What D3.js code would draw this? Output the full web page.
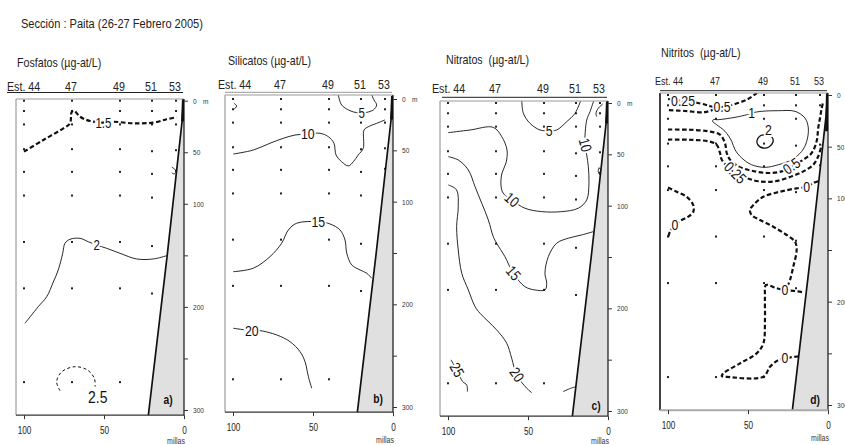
<!DOCTYPE html>
<html>
<head>
<meta charset="utf-8">
<script src="https://cdn.jsdelivr.net/npm/d3@7"></script>
<style>
  body { margin: 0; background: #fff; }
  svg { display: block; font-family: "Liberation Sans", Arial, sans-serif; }
  text { white-space: pre; }
</style>
</head>
<body>
<div id="chart"></div>
<script>
// stations along the section (distance to coast, miles) and their sample depths (m)
const stations = ['44', '47', '49', '51', '53'];
const stationMiles = [100, 70, 40, 20, 5];
const sampleDepths = [
  [0, 10, 23, 47, 69, 92, 137, 182, 273],
  [0, 10, 23, 47, 69, 92, 137, 182, 273],
  [0, 10, 23, 47, 69, 92, 137, 182, 273],
  [0, 10, 23, 49, 71, 94, 141, 187],
  [0, 10, 23, 48, 68]
];
const depthTicks = [0, 50, 100, 150, 200, 250, 300];
const depthLabels = ['0', '50', '100', '', '200', '', '300'];
const distTicks = [100, 50, 0];
// sea floor along the section [miles, depth]
const bottomProfile = [[0, -3], [1.2, 20], [10.5, 150], [22.5, 308]];

// contours: points are [miles, depth]; at = label anchors
const fosfatos = [
  {level: '1.5', at: [[50.4, 21.3]], pts: [[100, 49.4], [87.9, 38.1], [75.4, 26.8], [71.25, 21.9], [70.2, 11], [68.75, 9.7], [65, 15.5], [58.75, 19.7], [50.4, 21.3], [44.4, 20.4], [31.9, 21.9], [19.4, 21.3], [10.8, 18], [4.6, 16.1]]},
  {level: '2', at: [[54.6, 140]], pts: [[10.8, 150.3], [19.2, 153.5], [29.6, 153.5], [40, 148], [48.3, 143.2], [54.6, 140], [59.8, 136.8], [65, 133.5], [71.25, 134.4], [74.4, 138.3], [75.8, 148], [78.6, 164.2], [81.7, 175.9], [85.8, 190.1], [91.1, 199.8], [99.4, 215.9]]},
  {level: '2.5', at: [[53.9, 287.7]], pts: [[77.5, 281.3], [79.6, 272.5], [76.4, 262.9], [68.1, 258], [60.4, 261.2], [56, 269.3], [55.6, 277.4]]},
  {level: '2', at: [], pts: [[7.6, 64.5], [5.8, 66.5], [5.0, 69], [6.2, 71], [7.6, 70]]}
];

const silicatos = [
  {level: '5', at: [], pts: [[99.4, 4.2], [97.7, 6.8], [99.4, 10]]},
  {level: '5', at: [[19.6, 13.9]], pts: [[34.2, -4], [32.1, 5.8], [26.9, 11.4], [22.7, 13.3], [19.6, 13.9], [16.4, 13], [12.3, 10.7], [10.2, 5.8], [11.9, 1], [13.3, -4]]},
  {level: '10', at: [[53.3, 34.1]], pts: [[99.8, 53.6], [87.3, 49.7], [76.9, 43.1], [68.6, 38.3], [61.25, 35.1], [53.3, 34.1], [45.6, 33.4], [40.4, 36.7], [36.9, 43.1], [35.6, 54.5], [32.1, 61.1], [27.9, 65.2], [24.8, 61.1], [21.7, 54.5], [18.6, 48], [18.1, 30.2], [15.4, 27], [10.2, 23.7], [5, 20.4]]},
  {level: '15', at: [[46.7, 119.5]], pts: [[99.8, 168.2], [87.3, 164.8], [76.9, 153.6], [69.6, 140.5], [65.4, 127.6], [60.2, 121], [46.7, 119.5], [39.4, 121.7], [33.1, 127.6], [30, 137.3], [28.9, 150.2], [25.8, 161.6], [20.6, 166.5], [16.4, 169.7], [13.3, 174.6]]},
  {level: '20', at: [[88.3, 225.6]], pts: [[99.8, 223.3], [88.3, 225.6], [83.1, 225.6], [72.7, 229.8], [64.4, 236.3], [58.1, 246.1], [55, 255.8], [52.9, 270.4], [50.8, 281.7]]}
];

const nitratos = [
  {level: '5', at: [[36.7, 27]], pts: [[53.9, -3], [52.9, 10], [48.75, 19.8], [42.5, 26.3], [36.7, 27], [32.1, 26.3], [25.8, 18.2], [20.6, 10], [16.9, -3]]},
  {level: '5', at: [], pts: [[3.3, 1], [6.1, 5.2], [7.5, 10], [7.1, 13.3]]},
  {level: '10', at: [[60.2, 94.4], [14.4, 40.9]], pts: [[99.8, 28.9], [86.25, 26.3], [71.7, 23.7], [66.4, 32.8], [63.1, 45.8], [63.75, 58.4], [66.25, 68.2], [66.9, 79.8], [65.6, 87.6], [60.2, 94.4], [51.9, 102.5], [41.4, 105.8], [28.9, 105.8], [18.6, 102.5], [13.3, 94.4], [11.9, 78.2], [12.3, 62], [13.3, 50.6], [14.4, 40.9], [13.3, 16.6], [11.25, 8.5], [8.75, -3]]},
  {level: '15', at: [[59.2, 165.8]], pts: [[99.8, 52.3], [93.6, 55.5], [87.3, 65.2], [83.1, 81.5], [78.9, 97.7], [74.8, 113.9], [71.7, 130.2], [69.6, 136.6], [64.4, 149.7], [59.2, 165.8], [51.9, 178.9], [45.6, 182.1], [39.4, 182.1], [38.3, 175.6], [39.4, 165.8], [37.3, 149.7], [32.1, 136.6], [24.8, 131.7], [16.4, 128.5], [9.2, 125.3]]},
  {level: '20', at: [[57.1, 264.8]], pts: [[99.8, 79.8], [94.6, 84.7], [93.6, 101], [94.6, 120.4], [93.6, 143.1], [91.4, 165.8], [87.3, 182.1], [83.1, 198.3], [80, 204.8], [69.6, 221], [63.3, 234], [60.2, 248.6], [57.1, 264.8], [50.8, 277.8], [47.7, 282.1]]},
  {level: '20', at: [], pts: [[28, 281.1], [23.5, 278], [19.6, 276.2]]},
  {level: '25', at: [[94.6, 260]], pts: [[98.1, 250.2], [94.6, 260], [90.8, 271.4], [88.3, 274.6], [87.9, 281.1]]},
  {level: '20', at: [], pts: [[5.6, 63], [4.3, 66], [5, 70], [6.1, 67], [5.6, 63]]}
];

const nitritos = [
  {level: '0.25', at: [[90.6, 5.8]], pts: [[100, 3.9], [90.6, 5.8], [81.25, 7.7], [75, 10.2], [70.5, 12.8], [76.9, 16.5], [89.4, 15.5], [100, 14.5]]},
  {level: '0.5', at: [[66.25, 11.6]], pts: [[71.25, 12.6], [66.25, 11.6], [58.1, 8.7], [50, 3.9], [44.4, -2]]},
  {level: '1', at: [[47.7, 17.4]], closed: true, pts: [[71.7, 23.9], [68.6, 23.9], [58.1, 21.6], [50.8, 19.1], [47.7, 17.4], [41.4, 15.8], [31.1, 15.2], [20.6, 15.8], [14.4, 22.3], [12.3, 31.9], [13.3, 44.8], [16.4, 54.5], [22.7, 62.6], [31.1, 67.5], [39.4, 70], [47.7, 67.5], [53.9, 61], [58.1, 53], [60.2, 44.8], [64.4, 35.1], [69.6, 28.8], [72.1, 25.5]]},
  {level: '2', at: [[37.3, 33.6]], closed: true, pts: [[44.4, 44.5], [42.5, 39.7], [38.75, 38.7], [35, 40.7], [34.4, 45.5], [36.9, 50.3], [40.6, 51.3], [43.75, 48.4]]},
  {level: '0.5', at: [[22.7, 69]], pts: [[100, 33.4], [87.3, 33.6], [74.8, 35.1], [67.5, 38.4], [64.4, 46.5], [63.3, 56.1], [61.25, 62.6], [56.1, 69], [47.7, 73.3], [37.3, 75.5], [28.9, 73.9], [22.7, 69], [15.4, 62.6], [10.2, 56.1], [7.1, 44.8], [6.1, 31.9], [5, 22.3], [3.9, 12.6], [2.9, 6.1]]},
  {level: '0.25', at: [[58.1, 75.5]], pts: [[100, 43.1], [87.3, 43.3], [74.8, 44.8], [69.6, 48.1], [67.5, 56.1], [66.4, 62.6], [58.1, 75.5], [50.8, 80.3], [43.6, 83.5], [33.1, 83.5], [22.7, 78.7], [15.4, 73.9], [9.2, 67.5], [6.1, 59.3], [3.9, 48.1]]},
  {level: '0', at: [[13.3, 88.8]], pts: [[6.1, 83.5], [9.2, 85.2], [13.3, 88.8], [19.6, 90.3], [30, 93.6], [40.4, 98.5], [45.6, 104.8], [48.75, 111.3], [47.7, 116.2], [42.5, 121], [34.2, 127.5], [25.8, 135.5], [20.6, 142], [19.6, 150], [21.7, 166.2], [23.75, 179.1], [25, 183.9]]},
  {level: '0', at: [[26.9, 188.8], [26.9, 254.9]], pts: [[16.25, 190.7], [20.6, 189.7], [26.9, 188.8], [32.5, 186.8], [38.75, 183.9], [39.4, 195.5], [39.4, 217.8], [40.4, 240.4], [44.6, 250], [55, 259.7], [65.4, 269.4], [66.4, 272], [63.3, 272.7], [40.4, 272.7], [36.25, 263], [31.1, 256.5], [26.9, 254.9], [20.6, 253.3], [16.4, 252.7]]},
  {level: '0', at: [[95.6, 125.8]], pts: [[100, 89.5], [94.6, 93.6], [88.3, 98.5], [84.2, 106.5], [84.2, 113], [87.3, 117.8], [91.4, 121], [95.6, 125.8], [98.75, 132.3], [99.8, 137.2]]}
];

// ---- layout ----
const width = 845, height = 445;
const NARROW = 0.82;   // condensed lettering of the original figure
const styles = {
  solid: {w: 0.9, dash: null},
  solidMed: {w: 1.3, dash: null},
  dashBold: {w: 2.2, dash: '4.5,2.5'},
  dashThin: {w: 1, dash: '3,2.5'}
};

const panels = [
  {tag: 'a)', title: 'Fosfatos (µg-at/L)', data: fosfatos, x0: 184, y0: 100.7, y300: 410, top: 99,
   titleX: 17, titleY: 67, lineX1: 7, lineY: 92.5, estX: 7, stY: 90.5, stSize: 13, tagPos: [-16, -16],
   kind: ['dashBold', 'solid', 'dashThin', 'solid'], size: [14, 14, 17, 13], rot: [0, 0, 0, 0]},
  {tag: 'b)', title: 'Silicatos (µg-at/L)', data: silicatos, x0: 393, y0: 99, y300: 407, top: 95,
   titleX: 228, titleY: 65, lineX1: 225, lineY: 92.3, estX: 218, stY: 89.3, stSize: 13, tagPos: [-15, -14],
   kind: ['solid', 'solid', 'solid', 'solid', 'solid'], size: [14, 14, 15, 15, 15], rot: [0, 0, 0, 0, 0]},
  {tag: 'c)', title: 'Nitratos  (µg-at/L)', data: nitratos, x0: 608, y0: 103, y300: 411, top: 101,
   titleX: 446, titleY: 64, lineX1: 442, lineY: 97.3, estX: 432, stY: 93.3, stSize: 13, tagPos: [-12, -11],
   kind: ['solid', 'solid', 'solid', 'solid', 'solid', 'solid', 'solid', 'solid'], size: [15, 13, 15, 15, 15, 13, 15, 13],
   rot: [0, 0, [40, 75], 50, 55, 0, 60, 0]},
  {tag: 'd)', title: 'Nitritos  (µg-at/L)', data: nitritos, x0: 828, y0: 95, y300: 405, top: 93,
   titleX: 661, titleY: 57, lineX1: 660, lineY: 90.7, estX: 655, stY: 85, stSize: 11, tagPos: [-13, -11],
   kind: ['dashBold', 'dashBold', 'solid', 'solidMed', 'dashBold', 'dashBold', 'dashBold', 'dashBold', 'dashBold'],
   size: [15, 15, 15, 15, 15, 15, 15, 15, 15], rot: [0, 0, 0, 0, -35, 45, 0, 0, 0]}
];

const svg = d3.select('#chart').append('svg')
  .attr('width', width)
  .attr('height', height);

// condensed text helper
function addText(parent, x, y, str, size, o = {}) {
  const t = parent.append('text')
    .attr('transform', `translate(${x},${y})${o.rot ? ` rotate(${o.rot})` : ''} scale(${NARROW},1)`)
    .attr('font-size', size)
    .attr('fill', o.fill || '#222')
    .attr('text-anchor', o.anchor || 'start')
    .text(str);
  if (o.central) t.attr('dominant-baseline', 'central');
  if (o.bold) t.attr('font-weight', 'bold');
  if (o.halo) t.attr('stroke', '#fff').attr('stroke-width', 4).attr('paint-order', 'stroke');
  return t;
}

addText(svg, 21, 28, 'Sección : Paita (26-27 Febrero 2005)', 13.5);

panels.forEach((p, pi) => {
  const x = d3.scaleLinear().domain([0, 100]).range([p.x0, p.x0 - 160]);
  const y = d3.scaleLinear().domain([0, 300]).range([p.y0, p.y300]);
  const left = x(105), right = x(0), bottom = y(305);
  const g = svg.append('g');

  addText(g, p.titleX, p.titleY, p.title, 13);

  // station header
  g.append('line')
    .attr('x1', p.lineX1).attr('x2', right - 1)
    .attr('y1', p.lineY).attr('y2', p.lineY)
    .attr('stroke', pi === 1 ? '#999' : '#222').attr('stroke-width', 1);
  stations.forEach((s, i) => {
    if (i === 0) addText(g, p.estX, p.stY, 'Est. ' + s, p.stSize);
    else addText(g, x(stationMiles[i]) - 1, p.stY, s, p.stSize, {anchor: 'middle'});
  });

  // clip to plot area
  const clipId = 'clip' + pi;
  g.append('clipPath').attr('id', clipId)
    .append('rect')
      .attr('x', left).attr('y', p.top)
      .attr('width', right - left).attr('height', bottom - p.top);

  const plot = g.append('g').attr('clip-path', `url(#${clipId})`);

  // sampling points
  stations.forEach((s, i) => {
    plot.selectAll(null)
      .data(sampleDepths[i])
      .join('rect')
        .attr('x', x(stationMiles[i]) - 1)
        .attr('y', d => y(d) - 1)
        .attr('width', 2).attr('height', 2)
        .attr('fill', '#222');
  });

  // contours
  const line = d3.line().x(d => x(d[0])).y(d => y(d[1])).curve(d3.curveCatmullRom.alpha(0.5));
  const closedLine = d3.line().x(d => x(d[0])).y(d => y(d[1])).curve(d3.curveCatmullRomClosed.alpha(0.5));
  p.data.forEach((c, ci) => {
    const st = styles[p.kind[ci]];
    plot.append('path')
      .attr('d', c.closed ? closedLine(c.pts) : line(c.pts))
      .attr('fill', 'none')
      .attr('stroke', '#111')
      .attr('stroke-width', st.w)
      .attr('stroke-dasharray', st.dash);
  });

  // sea floor
  const floor = bottomProfile.map(d => [x(d[0]), y(d[1])]);
  plot.append('path')
    .attr('d', d3.line()(floor.concat([[right + 2, y(308)], [right + 2, y(-3)]])) + 'Z')
    .attr('fill', '#e0e0e0');
  plot.append('path')
    .attr('d', d3.line()(floor))
    .attr('fill', 'none').attr('stroke', '#111').attr('stroke-width', 1.7);
  plot.append('line')
    .attr('x1', x(0) - 0.5).attr('x2', x(0.9))
    .attr('y1', y(-3)).attr('y2', y(pi === 3 ? 35 : 20))
    .attr('stroke', '#111').attr('stroke-width', 3);

  // contour labels
  p.data.forEach((c, ci) => {
    c.at.forEach((a, ai) => {
      const r = Array.isArray(p.rot[ci]) ? p.rot[ci][ai] : p.rot[ci];
      addText(g, x(a[0]), y(a[1]), c.level, p.size[ci],
        {anchor: 'middle', central: true, rot: r, fill: '#111', halo: true});
    });
  });

  // frame
  g.append('line').attr('x1', left).attr('x2', left).attr('y1', p.top).attr('y2', bottom)
    .attr('stroke', pi === 3 ? '#111' : '#888').attr('stroke-width', pi === 3 ? 1.6 : 1);
  g.append('line').attr('x1', left).attr('x2', right).attr('y1', p.top).attr('y2', p.top)
    .attr('stroke', '#999').attr('stroke-width', 1);
  g.append('line').attr('x1', right).attr('x2', right).attr('y1', p.top).attr('y2', bottom)
    .attr('stroke', '#111').attr('stroke-width', 1.2);

  // depth axis (right)
  const yAxis = g.append('g')
    .attr('transform', `translate(${right},0)`)
    .call(d3.axisRight(y).tickValues(depthTicks).tickSize(4).tickPadding(5)
      .tickFormat((d, i) => depthLabels[i]));
  yAxis.select('.domain').remove();
  yAxis.selectAll('text')
    .attr('font-size', 8).attr('fill', '#333').attr('font-family', null)
    .attr('x', 9 / NARROW)
    .attr('transform', `scale(${NARROW},1)`);
  yAxis.selectAll('line').attr('stroke', '#333');
  addText(g, right + 19, y(0) + 3, 'm', 8, {fill: '#333'});

  // distance axis (bottom)
  const xAxis = g.append('g')
    .attr('transform', `translate(0,${bottom})`)
    .call(d3.axisBottom(x).tickValues(distTicks).tickSize(4).tickPadding(8));
  xAxis.select('.domain')
    .attr('d', `M${left},0H${right}`)
    .attr('stroke', pi === 3 ? '#aaa' : '#333')
    .attr('stroke-width', pi === 3 ? 2 : 1.2);
  xAxis.selectAll('text')
    .attr('font-size', 10).attr('fill', '#222').attr('font-family', null)
    .attr('transform', `scale(${NARROW},1)`);
  xAxis.selectAll('line').attr('stroke', '#333');
  addText(g, right - 8, Math.min(bottom + 31, 444), 'millas', 8.5, {anchor: 'middle', fill: '#333'});

  // panel tag
  addText(g, right + p.tagPos[0], bottom + p.tagPos[1], p.tag, 12.5,
    {anchor: 'middle', central: true, bold: true, fill: '#111'});
});
</script>
</body>
</html>
